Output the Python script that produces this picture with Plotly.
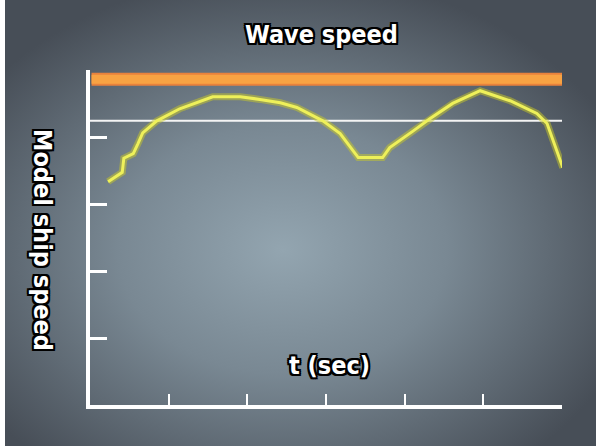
import base64
import plotly.graph_objects as go

# ---- data ----
t_values = [0.23, 0.41, 0.43, 0.55, 0.61, 0.67, 0.85, 1.14, 1.56, 1.91, 2.16, 2.42, 2.63,
            2.96, 3.18, 3.41, 3.72, 3.81, 4.11, 4.32, 4.61, 4.96, 5.34, 5.68, 5.81, 6.01]
ship_speed = [3.34, 3.48, 3.69, 3.76, 3.91, 4.07, 4.25, 4.43, 4.61, 4.61, 4.57, 4.52, 4.45,
              4.25, 4.06, 3.70, 3.70, 3.85, 4.10, 4.28, 4.51, 4.70, 4.55, 4.36, 4.21, 3.55]
wave_speed = 4.87
reference_speed = 4.25
x_ticks = [1, 2, 3, 4, 5, 6]
y_ticks = [1, 2, 3, 4, 5]

W, H = 596, 446
ML, MR, MT, MB = 90, 34, 70, 41
PW, PH = W - ML - MR, H - MT - MB

svg = (
    "<svg xmlns='http://www.w3.org/2000/svg' width='596' height='446'>"
    "<defs><radialGradient id='g' cx='0.47' cy='0.56' r='0.62'>"
    "<stop offset='0' stop-color='#93a5b0'/>"
    "<stop offset='0.45' stop-color='#798893'/>"
    "<stop offset='1' stop-color='#474e57'/>"
    "</radialGradient></defs>"
    "<rect width='596' height='446' fill='url(#g)'/></svg>"
)
bg_uri = "data:image/svg+xml;base64," + base64.b64encode(svg.encode()).decode()

outline = ("-2px -2px 0 #000, 2px -2px 0 #000, -2px 2px 0 #000, 2px 2px 0 #000, "
           "0 2px 0 #000, 2px 0 0 #000, 0 -2px 0 #000, -2px 0 0 #000")
txt_font = dict(family="DejaVu Sans Condensed, Liberation Sans Narrow, sans-serif",
                size=25, color="white", weight="bold", shadow=outline)

fig = go.Figure()

# wave speed band
fig.add_trace(go.Scatter(x=[0.02, 6.06], y=[wave_speed, wave_speed], mode="lines",
                         line=dict(color="#e9823c", width=13), cliponaxis=False,
                         hoverinfo="skip", showlegend=False))
fig.add_trace(go.Scatter(x=[0.02, 6.06], y=[wave_speed, wave_speed], mode="lines",
                         line=dict(color="#f8a343", width=9), cliponaxis=False,
                         hoverinfo="skip", showlegend=False))
# reference white line
fig.add_trace(go.Scatter(x=[0, 6.01], y=[reference_speed, reference_speed], mode="lines",
                         line=dict(color="#f4f4f4", width=2), cliponaxis=False,
                         hoverinfo="skip", showlegend=False))
# ship speed curve (glow + core)
fig.add_trace(go.Scatter(x=t_values, y=ship_speed, mode="lines",
                         line=dict(color="rgba(200,200,40,0.5)", width=7), cliponaxis=False,
                         hoverinfo="skip", showlegend=False))
fig.add_trace(go.Scatter(x=t_values, y=ship_speed, mode="lines",
                         line=dict(color="#eef05a", width=3), cliponaxis=False,
                         showlegend=False))

fig.update_layout(
    width=W, height=H,
    margin=dict(l=ML, r=MR, t=MT, b=MB, pad=0),
    paper_bgcolor="white",
    plot_bgcolor="rgba(0,0,0,0)",
    images=[dict(source=bg_uri, xref="paper", yref="paper",
                 x=(5 - ML) / PW, y=1 + MT / PH,
                 sizex=(W - 5) / PW, sizey=H / PH,
                 sizing="stretch", xanchor="left", yanchor="top", layer="below")],
    xaxis=dict(range=[0, 6], tickvals=x_ticks, showticklabels=False, ticks="inside",
               ticklen=11, tickwidth=2, tickcolor="white", showgrid=False, zeroline=False,
               showline=True, linecolor="white", linewidth=4),
    yaxis=dict(range=[0, 5.01], tickvals=y_ticks, showticklabels=False, ticks="inside",
               ticklen=17, tickwidth=3, tickcolor="white", showgrid=False, zeroline=False,
               showline=True, linecolor="white", linewidth=4),
    annotations=[
        dict(text="Wave speed", xref="paper", yref="paper", x=(321 - ML) / PW,
             y=(H - MB - 34) / PH, showarrow=False, font=txt_font,
             xanchor="center", yanchor="middle"),
        dict(text="t (sec)", xref="paper", yref="paper", x=(329 - ML) / PW,
             y=(H - MB - 365) / PH, showarrow=False, font=txt_font,
             xanchor="center", yanchor="middle"),
        dict(text="Model ship speed", xref="paper", yref="paper", x=(43 - ML) / PW,
             y=(H - MB - 240) / PH, showarrow=False, font=txt_font, textangle=90,
             xanchor="center", yanchor="middle"),
    ],
)

fig.write_html("out.html", config={"displayModeBar": False},
               post_script="document.body.style.margin='0';document.body.style.overflow='hidden';")
